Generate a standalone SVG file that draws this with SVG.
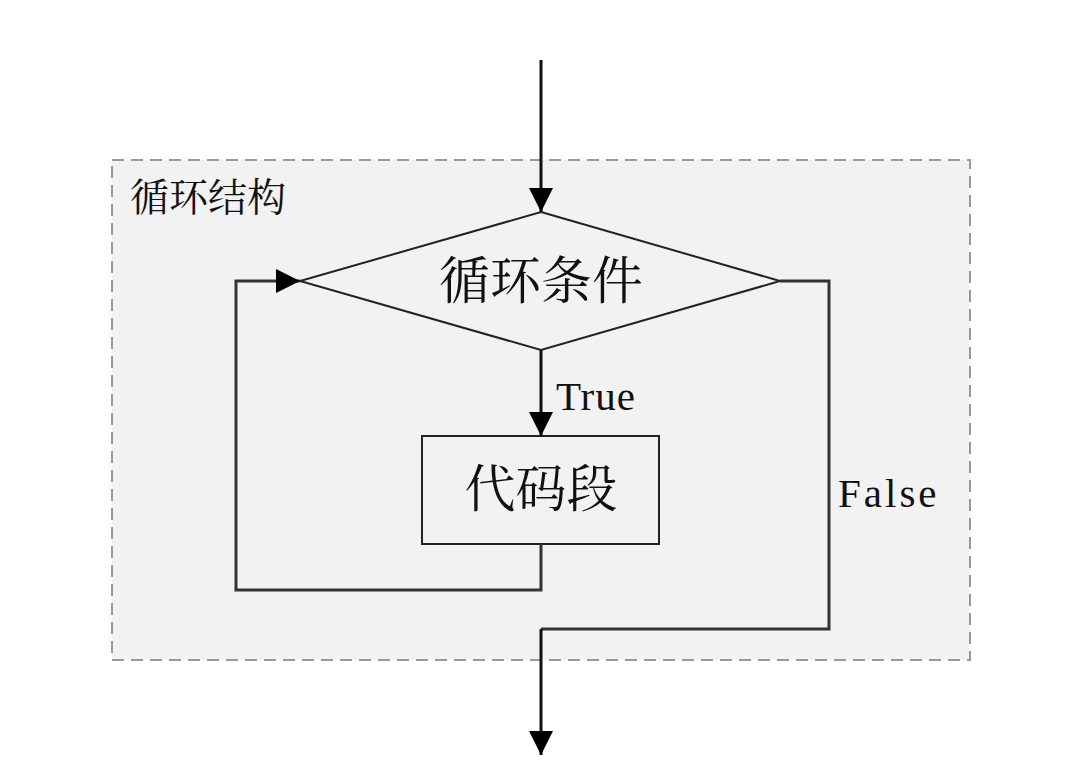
<svg xmlns="http://www.w3.org/2000/svg" width="1084" height="776" viewBox="0 0 1084 776">
<style>
.cjk{font-family:"Noto Serif CJK SC","Noto Sans CJK SC",serif;fill:#111}
.lat{font-family:"Liberation Serif",serif;fill:#111}
.ln{fill:none;stroke:#111;stroke-width:3}
.ln2{fill:none;stroke:#333;stroke-width:3}
.shape{fill:#f2f2f2;stroke:#222;stroke-width:2}
</style>
<defs>
<marker id="ah" markerWidth="8" markerHeight="8" refX="8" refY="4" orient="auto" markerUnits="strokeWidth">
<path d="M0,0 L8,4 L0,8 Z" fill="#000"/>
</marker>
</defs>
<rect width="1084" height="776" fill="#fff"/>
<g id="container">
<rect x="112" y="160" width="858" height="500" fill="#f2f2f2" stroke="#999" stroke-width="2" stroke-dasharray="12,7"/>
<text class="cjk" x="130" y="211" font-size="39">循环结构</text>
</g>
<g id="condition">
<polygon class="shape" points="541,212 780,281 541,350 300,281"/>
<text class="cjk" x="541" y="299" font-size="51" text-anchor="middle">循环条件</text>
</g>
<g id="code">
<rect class="shape" x="422" y="436" width="237" height="108"/>
<text class="cjk" x="541" y="507" font-size="51" text-anchor="middle">代码段</text>
</g>
<g id="connectors">
<path class="ln" d="M541,60 V212" marker-end="url(#ah)"/>
<path class="ln" d="M541,350 V436" marker-end="url(#ah)"/>
<path class="ln2" d="M541,544 V590 H236 V281 H300" marker-end="url(#ah)"/>
<path class="ln2" d="M780,281 H829 V629 H541"/>
<path class="ln" d="M541,629 V755" marker-end="url(#ah)"/>
<text class="lat" x="556" y="410" font-size="41" letter-spacing="1">True</text>
<text class="lat" x="838" y="507" font-size="41" letter-spacing="3">False</text>
</g>
</svg>
